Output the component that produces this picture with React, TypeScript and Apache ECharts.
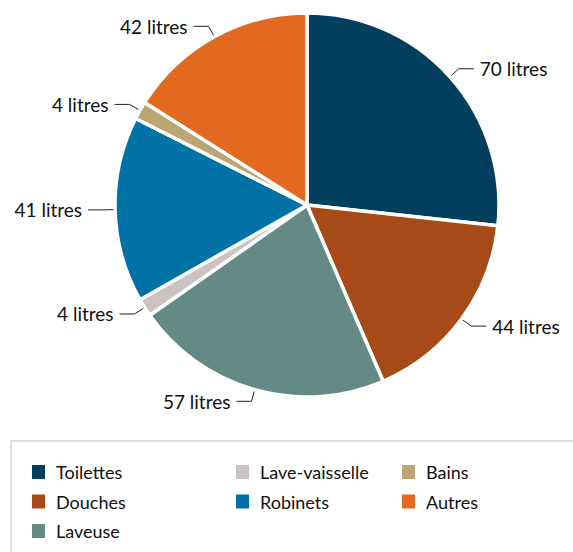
import React, { useEffect, useRef } from "react";
import * as echarts from "echarts";

const categories = ["Toilettes", "Douches", "Laveuse", "Lave-vaisselle", "Robinets", "Bains", "Autres"];
const values = [70, 44, 57, 4, 41, 4, 42];
const colors = ["#023f5f", "#a64b17", "#638a85", "#c9c4c1", "#0072a5", "#b9a673", "#e36820"];
const legendCols = [
  ["Toilettes", "Douches", "Laveuse"],
  ["Lave-vaisselle", "Robinets"],
  ["Bains", "Autres"],
];
const unit = "litres";

const FONT = "Lato, 'Open Sans', sans-serif";

export default function App() {
  const ref = useRef<HTMLDivElement>(null);
  useEffect(() => {
    document.body.style.margin = "0";
    if (!ref.current) return;
    const chart = echarts.init(ref.current, undefined, { renderer: "svg" });
    const legendLefts = [30, 234, 400];
    chart.setOption({
      animation: false,
      color: colors,
      textStyle: { fontFamily: FONT },
      legend: legendCols.map((col, i) => ({
        data: col,
        orient: "vertical",
        left: legendLefts[i],
        top: 463,
        height: 88,
        padding: 0,
        itemWidth: 15,
        itemHeight: 16,
        itemGap: 11.5,
        icon: "rect",
        selectedMode: false,
        textStyle: { fontSize: 18, color: "#111", fontFamily: FONT, padding: [0, 0, 0, 5] },
      })),
      graphic: [
        {
          type: "rect",
          shape: { x: 11, y: 441, width: 620, height: 200 },
          style: { fill: "none", stroke: "#dddddd", lineWidth: 2 },
        },
      ],
      series: [
        {
          type: "pie",
          center: [307, 205],
          radius: 192,
          startAngle: 90,
          clockwise: true,
          data: categories.map((n, i) => ({ name: n, value: values[i] })),
          itemStyle: { borderColor: "#fff", borderWidth: 3.5 },
          label: {
            show: true,
            formatter: (p: any) => `${p.value} ${unit}`,
            fontSize: 19,
            color: "#111",
            fontFamily: FONT,
            overflow: "none",
            distanceToLabelLine: 6,
          },
          labelLine: {
            show: true,
            length: 12,
            length2: 15,
            lineStyle: { color: "#222", width: 1 },
          },
          emphasis: { disabled: true },
        },
      ],
    });
    return () => chart.dispose();
  }, []);
  return <div ref={ref} style={{ width: 573, height: 552 }} />;
}
